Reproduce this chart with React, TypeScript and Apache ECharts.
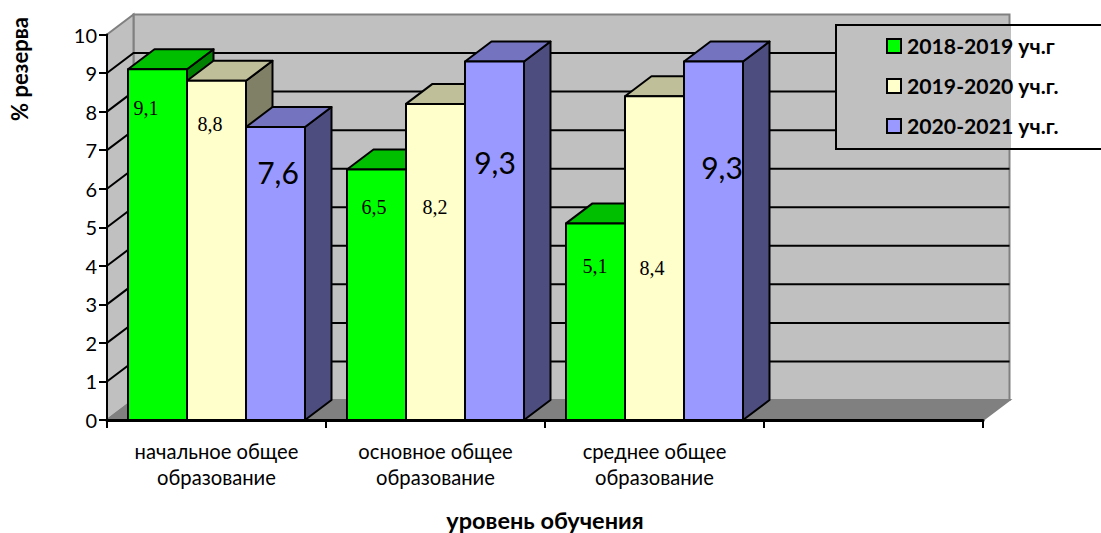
import React, { useEffect, useRef } from "react";
import * as echarts from "echarts";

const categories = ["начальное общее\nобразование", "основное общее\nобразование", "среднее общее\nобразование", ""];
const seriesNames = ["2018-2019 уч.г", "2019-2020 уч.г.", "2020-2021 уч.г."];
const values2018 = [9.1, 6.5, 5.1];
const values2019 = [8.8, 8.2, 8.4];
const values2020 = [7.6, 9.3, 9.3];
const gridTicks = [1, 2, 3, 4, 5, 6, 7, 8, 9];
const yAxisTitle = "% резерва";
const xAxisTitle = "уровень обучения";

const SANS = "Lato, Carlito, 'Open Sans', sans-serif";
const SERIF = "'Liberation Serif', serif";
const DX = 26.5;
const DY = -20;
const BAR_RATIO = 59 / 219;

const faces = [
  { front: "#00ff00", top: "#00bf00", side: "#008000" },
  { front: "#ffffcc", top: "#bfbf99", side: "#808066" },
  { front: "#9999ff", top: "#7373bf", side: "#4d4d80" },
];

// Hand-placed data labels: offset of the text centre from the bar's top-left front corner
const labelLayout = [
  [{ x: 18, y: 39, big: false }, { x: 27, y: 38, big: false }, { x: 29, y: 43, big: false }],
  [{ x: 23, y: 43, big: false }, { x: 29, y: 103, big: false }, { x: 27, y: 172, big: false }],
  [{ x: 32, y: 45, big: true }, { x: 30, y: 101, big: true }, { x: 38, y: 106, big: true }],
];

const pts = (p: number[][]) => ({ points: p });

const makeBarSeries = (name: string, values: number[], s: number) => ({
  type: "custom",
  name,
  z: 3,
  silent: true,
  itemStyle: { color: faces[s].front },
  encode: { x: 0, y: 1 },
  data: values.map((v, i) => [i, v]),
  renderItem: (_p: any, api: any) => {
    const idx = api.value(0);
    const val = api.value(1);
    const top = api.coord([idx, val]);
    const base = api.coord([idx, 0]);
    const w = api.size([1, 0])[0] * BAR_RATIO;
    const x0 = top[0] - 1.5 * w + s * w;
    const x1 = x0 + w;
    const st = { stroke: "#000", lineWidth: 2, lineJoin: "round" };
    const lay = labelLayout[s][idx];
    return {
      type: "group",
      children: [
        {
          type: "polygon",
          shape: pts([[x1, top[1]], [x1 + DX, top[1] + DY], [x1 + DX, base[1] + DY], [x1, base[1]]]),
          style: { ...st, fill: faces[s].side },
        },
        {
          type: "polygon",
          shape: pts([[x0, top[1]], [x0 + DX, top[1] + DY], [x1 + DX, top[1] + DY], [x1, top[1]]]),
          style: { ...st, fill: faces[s].top },
        },
        {
          type: "rect",
          shape: { x: x0, y: top[1], width: w, height: base[1] - top[1] },
          style: { ...st, fill: faces[s].front },
        },
        {
          type: "text",
          style: {
            text: String(val).replace(".", ","),
            x: x0 + lay.x,
            y: top[1] + lay.y,
            align: "center",
            verticalAlign: "middle",
            fill: "#000",
            font: lay.big ? `30px ${SANS}` : `20px ${SERIF}`,
          },
        },
      ],
    };
  },
});

const App = () => {
  const ref = useRef<HTMLDivElement>(null);
  useEffect(() => {
    const chart = echarts.init(ref.current!, null, { renderer: "svg" });
    chart.setOption({
      animation: false,
      backgroundColor: "#fff",
      grid: { left: 107, right: 118, top: 34.5, bottom: 113, outerBoundsMode: "none" },
      legend: {
        data: seriesNames,
        orient: "vertical",
        left: 881,
        top: 30.5,
        icon: "rect",
        itemWidth: 14,
        itemHeight: 14,
        itemGap: 19,
        z: 20,
        selectedMode: false,
        itemStyle: { borderColor: "#000", borderWidth: 2 },
        textStyle: { fontFamily: SANS, fontWeight: "bold", fontSize: 21.2, color: "#000", padding: [1, 0, 0, 1] },
      },
      xAxis: {
        type: "category",
        data: categories,
        z: 10,
        axisLine: { lineStyle: { color: "#000", width: 3 } },
        axisTick: { show: true, length: 8, lineStyle: { color: "#000", width: 2 } },
        axisLabel: { fontFamily: SANS, fontSize: 20.2, color: "#000", lineHeight: 26, margin: 18, interval: 0 },
        splitLine: { show: false },
        name: xAxisTitle,
        nameLocation: "middle",
        nameGap: 88,
        nameTextStyle: { fontFamily: SANS, fontWeight: "bold", fontSize: 23.5, color: "#000" },
      },
      yAxis: {
        type: "value",
        min: 0,
        max: 10,
        interval: 1,
        z: 10,
        axisLine: { show: true, lineStyle: { color: "#000", width: 2 } },
        axisTick: { show: true, length: 8, lineStyle: { color: "#000", width: 2 } },
        axisLabel: { fontFamily: SANS, fontSize: 20, color: "#000", margin: 10 },
        splitLine: { show: false },
      },
      graphic: [
        {
          type: "text",
          x: 19,
          y: 69,
          rotation: Math.PI / 2,
          z: 20,
          style: {
            text: yAxisTitle,
            align: "center",
            verticalAlign: "middle",
            fill: "#000",
            font: `bold 22px ${SANS}`,
          },
        },
        {
          type: "rect",
          z: 15,
          shape: { x: 836, y: 25, width: 174, height: 124 },
          style: { fill: "#c0c0c0" },
        },
        {
          type: "rect",
          z: 16,
          shape: { x: 836, y: 25, width: 280, height: 124 },
          style: { fill: "none", stroke: "#000", lineWidth: 2 },
        },
      ],
      series: [
        {
          type: "custom",
          name: "walls",
          z: 1,
          silent: true,
          encode: { x: 0, y: 1 },
          data: [[0, 0]],
          renderItem: (params: any) => {
            const c = params.coordSys;
            const l = c.x;
            const r = c.x + c.width;
            const t = c.y;
            const b = c.y + c.height;
            const edge = { stroke: "#808080", lineWidth: 2 };
            return {
              type: "group",
              children: [
                { type: "polygon", shape: pts([[l + DX, t + DY], [r + DX, t + DY], [r + DX, b + DY], [l + DX, b + DY]]), style: { ...edge, fill: "#c0c0c0" } },
                { type: "polygon", shape: pts([[l, t], [l + DX, t + DY], [l + DX, b + DY], [l, b]]), style: { ...edge, fill: "#c0c0c0" } },
                { type: "polygon", shape: pts([[l, b], [l + DX, b + DY], [r + DX, b + DY], [r, b]]), style: { ...edge, fill: "#808080" } },
              ],
            };
          },
        },
        {
          type: "custom",
          name: "gridlines",
          z: 2,
          silent: true,
          encode: { x: 0, y: 1 },
          data: gridTicks.map((t) => [0, t]),
          renderItem: (params: any, api: any) => {
            const c = params.coordSys;
            const y = api.coord([0, api.value(1)])[1];
            return {
              type: "polyline",
              shape: pts([[c.x, y], [c.x + DX, y + DY], [c.x + c.width + DX, y + DY]]),
              style: { fill: "none", stroke: "#000", lineWidth: 2 },
            };
          },
        },
        makeBarSeries(seriesNames[0], values2018, 0),
        makeBarSeries(seriesNames[1], values2019, 1),
        makeBarSeries(seriesNames[2], values2020, 2),
      ],
    });
    return () => chart.dispose();
  }, []);
  return <div ref={ref} style={{ position: "absolute", left: 0, top: 0, width: 1101, height: 533 }} />;
};

export default App;
